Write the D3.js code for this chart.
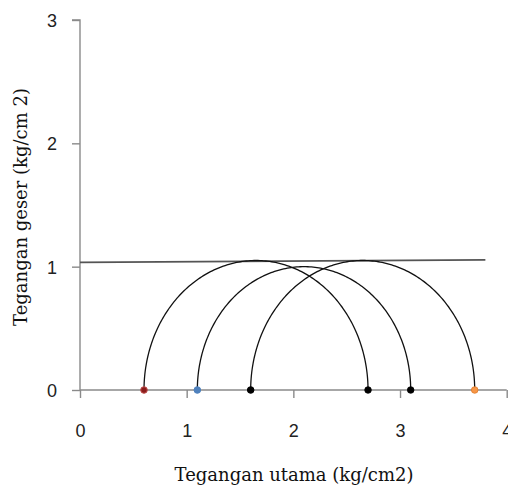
<!DOCTYPE html>
<html><head><meta charset="utf-8">
<script src="https://cdn.jsdelivr.net/npm/d3@7"></script>
<style>html,body{margin:0;padding:0;background:#fff;}</style>
</head><body>
<svg id="c" width="508" height="488"></svg>
<script>
// Data
const sigma3 = [0.6, 1.1, 1.6];      // minor principal stress (left ends)
const sigma1 = [2.7, 3.1, 3.7];      // major principal stress (right ends)
const leftColors = ["#c0504d", "#4f81bd", "#000000"];
const rightColors = ["#000000", "#000000", "#f79646"];
const envelopeX = [0, 3.8];
const envelopeY = [1.035, 1.055];
const xTicks = [0, 1, 2, 3, 4];
const yTicks = [0, 1, 2, 3];

const svg = d3.select("#c");
const x = d3.scaleLinear().domain([0, 4]).range([80, 506.7]);
const y = d3.scaleLinear().domain([0, 3]).range([390, 20]);

// axes
const xAxis = d3.axisBottom(x).tickValues(xTicks).tickSize(8).tickFormat(d3.format("d"));
const yAxis = d3.axisLeft(y).tickValues(yTicks).tickSize(8).tickFormat(d3.format("d"));
const gx = svg.append("g").attr("transform", "translate(0,390)").call(xAxis);
const gy = svg.append("g").attr("transform", "translate(80,0)").call(yAxis);
[gx, gy].forEach(g => {
  g.select(".domain").attr("stroke", "#8a8a8a").attr("stroke-width", 1.4);
  g.selectAll(".tick line").attr("stroke", "#8a8a8a").attr("stroke-width", 1.4);
  g.selectAll(".tick text").attr("fill", "#222").attr("font-family", "Liberation Sans, Arial, sans-serif").attr("font-size", 18);
});
gy.select(".domain").attr("d", "M0,390V20H-8");
gx.select(".domain").attr("d", "M80,0H506.7");
gx.selectAll(".tick text").attr("y", 47).attr("dy", 0);
gy.selectAll(".tick text").attr("x", -23).attr("dy", "0.36em");

// envelope line
svg.append("line")
  .attr("x1", x(envelopeX[0])).attr("y1", y(envelopeY[0]))
  .attr("x2", x(envelopeX[1])).attr("y2", y(envelopeY[1]))
  .attr("stroke", "#555").attr("stroke-width", 1.8);

// Mohr circles (upper halves)
const circles = sigma3.map((s3, i) => ({ s3, s1: sigma1[i], c: (s3 + sigma1[i]) / 2, r: (sigma1[i] - s3) / 2 }));
const line = d3.line().x(d => x(d[0])).y(d => y(d[1]));
circles.forEach(cc => {
  const pts = d3.range(0, 181).map(a => {
    const t = Math.PI - a * Math.PI / 180;
    return [cc.c + cc.r * Math.cos(t), cc.r * Math.sin(t)];
  });
  svg.append("path").attr("d", line(pts)).attr("fill", "none").attr("stroke", "#111").attr("stroke-width", 1.3);
});

// points
sigma3.forEach((v, i) => {
  svg.append("circle").attr("cx", x(v)).attr("cy", y(0)).attr("r", 3.3).attr("fill", i === 0 ? "#8b1c1c" : leftColors[i]).attr("stroke", leftColors[i]).attr("stroke-width", 1);
});
sigma1.forEach((v, i) => {
  svg.append("circle").attr("cx", x(v)).attr("cy", y(0)).attr("r", 3.3).attr("fill", rightColors[i]).attr("stroke", i === 2 ? "#e07b2a" : "#000").attr("stroke-width", 0.8);
});

// titles
svg.append("text").attr("x", 294).attr("y", 481).attr("text-anchor", "middle")
  .attr("font-family", "DejaVu Serif, serif").attr("font-size", 18).attr("fill", "#111")
  .text("Tegangan utama (kg/cm2)");
svg.append("text").attr("transform", "translate(27,207) rotate(-90)").attr("text-anchor", "middle")
  .attr("font-family", "DejaVu Serif, serif").attr("font-size", 18).attr("fill", "#111")
  .text("Tegangan geser (kg/cm 2)");
</script>
</body></html>
